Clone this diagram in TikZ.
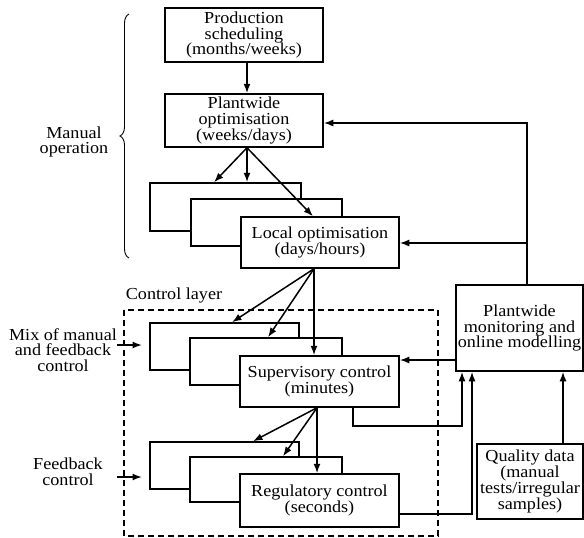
\documentclass[tikz,border=0pt]{standalone}
\usepackage{fontspec}
\setmainfont{Liberation Serif}[FakeStretch=1.08]
\usetikzlibrary{arrows.meta,decorations.pathreplacing,calc}
\begin{document}
\begin{tikzpicture}[x=1pt,y=-1pt,
  box/.style={draw,line width=1.5pt,fill=white,inner sep=0pt,align=center,
    font=\fontsize{16.8}{15.8}\selectfont},
  lbl/.style={align=center,inner sep=0pt,font=\fontsize{16.8}{15.8}\selectfont},
  arr/.style={line width=1.5pt,-{Latex[length=9.5pt,width=7pt]}}]
\useasboundingbox (0,0) rectangle (584,538);
% control layer
\draw[line width=1.4pt,dash pattern=on 6pt off 4pt] (124,310) rectangle (438,536);
\node[lbl] (cl) at (174,295) {Control layer};
% top boxes
\node[box,minimum width=158pt,minimum height=54pt] (prod) at (244,35) {Production\\scheduling\\(months/weeks)};
\node[box,minimum width=158pt,minimum height=53pt] (pwo) at (244,120.5) {Plantwide\\optimisation\\(weeks/days)};
% local optimisation stack
\node[box,minimum width=151pt,minimum height=48pt] (lo1) at (225.5,207) {};
\node[box,minimum width=151pt,minimum height=47pt] (lo2) at (266.5,222.5) {};
\node[box,minimum width=158pt,minimum height=51pt] (lo) at (320,242.5) {Local optimisation\\(days/hours)};
% supervisory stack
\node[box,minimum width=149pt,minimum height=47pt] (sc1) at (224.5,346.5) {};
\node[box,minimum width=152pt,minimum height=47pt] (sc2) at (266,361.5) {};
\node[box,minimum width=159pt,minimum height=51pt] (sc) at (319.5,381.5) {Supervisory control\\(minutes)};
% regulatory stack
\node[box,minimum width=149pt,minimum height=47pt] (rc1) at (224.5,465.5) {};
\node[box,minimum width=152pt,minimum height=45pt] (rc2) at (266,479.5) {};
\node[box,minimum width=159pt,minimum height=53pt] (rc) at (319.5,500.5) {Regulatory control\\(seconds)};
% right boxes
\node[box,minimum width=127pt,minimum height=86pt] (mon) at (519.5,328) {Plantwide\\monitoring and\\online modelling};
\node[box,minimum width=106pt,minimum height=75pt] (qd) at (530,481.5) {Quality data\\(manual\\tests/irregular\\samples)};
% left labels
\node[lbl] (man) at (74,142) {Manual\\operation};
\draw[line width=0.9pt,decorate,decoration={brace,amplitude=9pt}] (129,258) -- (129,14);
\node[lbl] (mix) at (63,350) {Mix of manual\\and feedback\\control};
\node[lbl] (fb) at (68,472) {Feedback\\control};
\coordinate (mixs) at (117,345);
\coordinate (fbs) at (117,477);
\draw[arr] (mixs) -- (142,345);
\draw[arr] (fbs) -- (142,477);
% top arrows
\draw[arr] (247,0 |- prod.south) -- (247,0 |- pwo.north);
\draw[arr] (247,0 |- pwo.south) -- (214,0 |- lo1.north);
\draw[arr] (247,0 |- pwo.south) -- (247,0 |- lo1.north);
\draw[arr] (247,0 |- pwo.south) -- (313,0 |- lo.north);
% local -> supervisory
\draw[arr] (314,0 |- lo.south) -- (232,0 |- sc1.north);
\draw[arr] (314,0 |- lo.south) -- (268,0 |- sc2.north);
\draw[arr] (314,0 |- lo.south) -- (314,0 |- sc.north);
% supervisory -> regulatory
\draw[arr] (317,0 |- sc.south) -- (253,0 |- rc1.north);
\draw[arr] (317,0 |- sc.south) -- (283,0 |- rc2.north);
\draw[arr] (317,0 |- sc.south) -- (317,0 |- rc.north);
% feedback from monitoring
\draw[arr] (527,0 |- mon.north) -- (527,123) -- (pwo.east |- 0,123);
\draw[arr] (527,243) -- (lo.east |- 0,243);
\draw[arr] (mon.west |- 0,360) -- (sc.east |- 0,360);
\draw[arr] (353,0 |- sc.south) -- (353,426) -- (462,426) -- (462,0 |- mon.south);
\draw[arr] (rc.east |- 0,514) -- (472,514) -- (472,0 |- mon.south);
\draw[arr] (563,0 |- qd.north) -- (563,0 |- mon.south);
\end{tikzpicture}
\end{document}
